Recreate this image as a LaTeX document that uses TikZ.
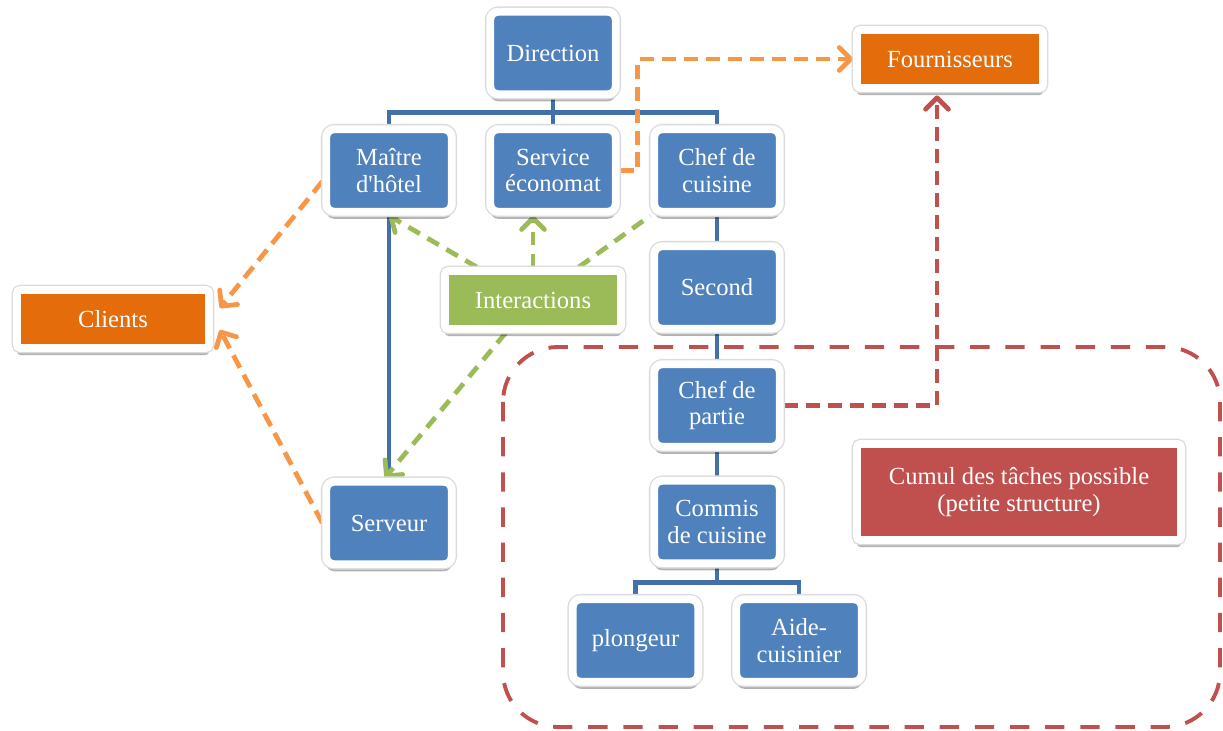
\documentclass[tikz,border=0pt]{standalone}
\usepackage{fontspec}
\setmainfont{Liberation Serif}
\newfontfamily\rawserif{Liberation Serif}
\usetikzlibrary{arrows.meta,shadows,backgrounds}
\definecolor{boxblue}{HTML}{4F81BD}
\definecolor{treeblue}{HTML}{4270A9}
\definecolor{orangefill}{HTML}{E46C0A}
\definecolor{orangeline}{HTML}{F79646}
\definecolor{greenfill}{HTML}{9BBB59}
\definecolor{redfill}{HTML}{C0504D}
\tikzset{
  framed/.style={draw=white, line width=4.5pt, text=white, align=center, inner sep=2pt,
    drop shadow={shadow xshift=0pt, shadow yshift=-4pt, opacity=.3, fill=black},
    preaction={draw=black!14, line width=6pt}},
  orgbox/.style={framed, fill=boxblue, rounded corners=4.5pt, minimum width=2.51cm, minimum height=1.65cm},
  flatbox/.style={framed, rounded corners=2pt, minimum height=1.16cm},
  tree/.style={draw=treeblue, line width=2.8pt},
  barb/.style={-{Straight Barb[round,length=6.5pt,width=13pt]}},
  oarrow/.style={draw=orangeline, line width=2.7pt, dash pattern=on 8pt off 4.5pt},
  garrow/.style={draw=greenfill, line width=2.7pt, dash pattern=on 7.5pt off 5pt},
  rarrow/.style={draw=redfill, line width=2.7pt, dash pattern=on 8pt off 4.5pt},
  cumulzone/.style={draw=redfill, line width=2.2pt, dash pattern=on 11pt off 9pt, rounded corners=1.1cm}
}
\begin{document}
\begin{tikzpicture}[font=\fontsize{14}{15}\selectfont]
\useasboundingbox (0,0) rectangle (24.46,-14.62);
% organigramme
\node[orgbox] (direction) at (11.06,-1.06) {Direction};
\node[orgbox] (maitre) at (7.78,-3.41) {Maître\\d{\rawserif'}hôtel};
\node[orgbox] (service) at (11.06,-3.41) {Service\\économat};
\node[orgbox] (chefcuisine) at (14.34,-3.41) {Chef de\\cuisine};
\node[orgbox] (second) at (14.34,-5.75) {Second};
\node[orgbox] (chefpartie) at (14.34,-8.11) {Chef de\\partie};
\node[orgbox] (commis) at (14.34,-10.44) {Commis\\de cuisine};
\node[orgbox] (serveur) at (7.78,-10.46) {Serveur};
\node[orgbox] (plongeur) at (12.71,-12.81) {plongeur};
\node[orgbox] (aide) at (15.98,-12.81) {Aide-\\cuisinier};
% acteurs externes
\node[flatbox, fill=orangefill, minimum width=3.84cm] (clients) at (2.26,-6.38) {Clients};
\node[flatbox, fill=orangefill, minimum width=3.72cm] (fournisseurs) at (19.0,-1.18) {Fournisseurs};
\node[flatbox, fill=greenfill, minimum width=3.52cm] (interactions) at (10.66,-6.0) {Interactions};
\node[flatbox, fill=redfill, minimum width=6.48cm, minimum height=1.92cm] (cumul) at (20.38,-9.84) {Cumul des tâches possible\\(petite structure)};
\begin{scope}[on background layer]
\draw[cumulzone] (10.06,-6.94) rectangle (24.4,-14.54);
% liens hierarchiques
\draw[tree] (direction.south) -- ++(0,-0.28) coordinate (bar);
\draw[tree] (maitre.north) |- (bar) -| (chefcuisine.north);
\draw[tree] (bar) -- (service.north);
\draw[tree] (maitre.south) -- (serveur.north);
\draw[tree] (chefcuisine.south) -- (second.north);
\draw[tree] (second.south) -- (chefpartie.north);
\draw[tree] (chefpartie.south) -- (commis.north);
\draw[tree] (commis.south) -- ++(0,-0.3) coordinate (bar2);
\draw[tree] (plongeur.north) |- (bar2) -| (aide.north);
% echanges
\draw[oarrow, barb] ([yshift=-0.22cm]maitre.west) -- ([shift={(0.14,0.22)}]clients.east);
\draw[oarrow, barb] (serveur.west) -- ([shift={(0.14,-0.22)}]clients.east);
\draw[oarrow, barb] (service.east) -- ++(0.36,0) |- (fournisseurs.west);
\draw[rarrow, barb, shorten >=2pt] (chefpartie.east) -| ([xshift=-0.26cm]fournisseurs.south);
\draw[garrow, barb] (interactions) -- (maitre.south);
\draw[garrow, barb] (interactions.north) -- (interactions.north |- service.south);
\draw[garrow] (interactions) -- (chefcuisine.south west);
\draw[garrow, barb] (interactions) -- ([xshift=-0.08cm]serveur.north);
\end{scope}
\end{tikzpicture}
\end{document}
